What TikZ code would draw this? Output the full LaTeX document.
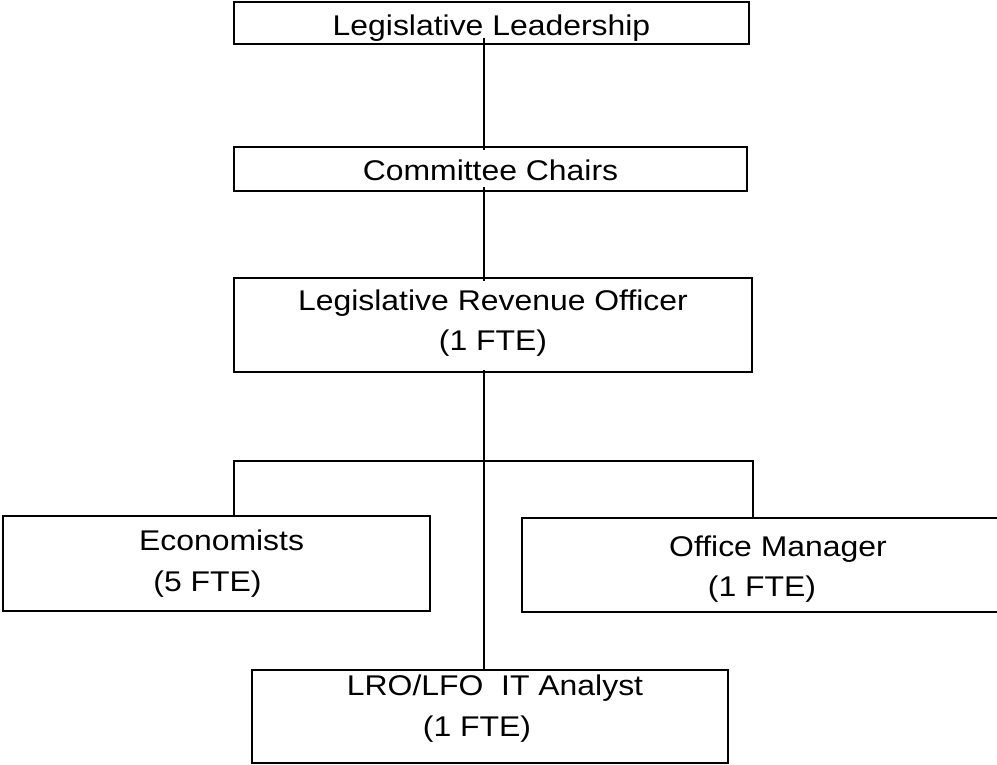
\documentclass[tikz,border=0pt]{standalone}
\usepackage{fontspec}
\setmainfont{Liberation Sans}[FakeStretch=1.12]
\begin{document}
\begin{tikzpicture}[x=1pt,y=-1pt,
  box/.style={draw, line width=2pt, inner sep=0pt, outer sep=0pt, align=center,
    font=\fontsize{28.5}{41}\selectfont},
  wire/.style={line width=1.3pt}]
\useasboundingbox (0,0) rectangle (997,764);
\clip (0,0) rectangle (997,764);
\fill[white] (0,0) rectangle (997,764);
% boxes
\node[box, minimum width=515pt, minimum height=42pt, text height=24pt, text depth=0pt]
  (lead) at (491.5,23) {Legislative Leadership};
\node[box, minimum width=513pt, minimum height=44pt, text height=22pt, text depth=0pt]
  (chairs) at (490.5,169) {Committee Chairs};
\node[box, minimum width=518pt, minimum height=94pt, text height=50pt, text depth=0pt,
  font=\fontsize{28.5}{39.5}\selectfont]
  (lro) at (493,325) {Legislative Revenue Officer\\(1 FTE)};
\node[box, minimum width=427pt, minimum height=95pt, text height=56.6pt, text depth=0pt]
  (econ) at (216.5,563.5) {\hspace*{10pt}Economists\\(5 FTE)\hspace*{18pt}};
\node[box, minimum width=496pt, minimum height=94pt, text height=62pt, text depth=0pt,
  font=\fontsize{28.5}{40}\selectfont]
  (office) at (770,565) {\hspace*{16pt}Office Manager\\(1 FTE)\hspace*{16pt}};
\node[box, minimum width=476pt, minimum height=93pt, text height=40pt, text depth=0pt]
  (it) at (490,716.5) {\hspace*{10pt}LRO/LFO\ \ IT Analyst\\(1 FTE)\hspace*{26pt}};
% connectors
\coordinate (sp) at (484,0);
\coordinate (hl) at (234,461);
\coordinate (hr) at (753,461);
\draw[wire, shorten <=-6pt, shorten >=-3pt] (lead.south -| sp) -- (chairs.north -| sp);
\draw[wire, shorten <=-4pt, shorten >=-3pt] (chairs.south -| sp) -- (lro.north -| sp);
\draw[wire, shorten <=-2pt] (lro.south -| sp) -- (it.north -| sp);
\draw[wire] (econ.north -| hl) -- (hl) -- (hr) -- (office.north -| hr);
\end{tikzpicture}
\end{document}
